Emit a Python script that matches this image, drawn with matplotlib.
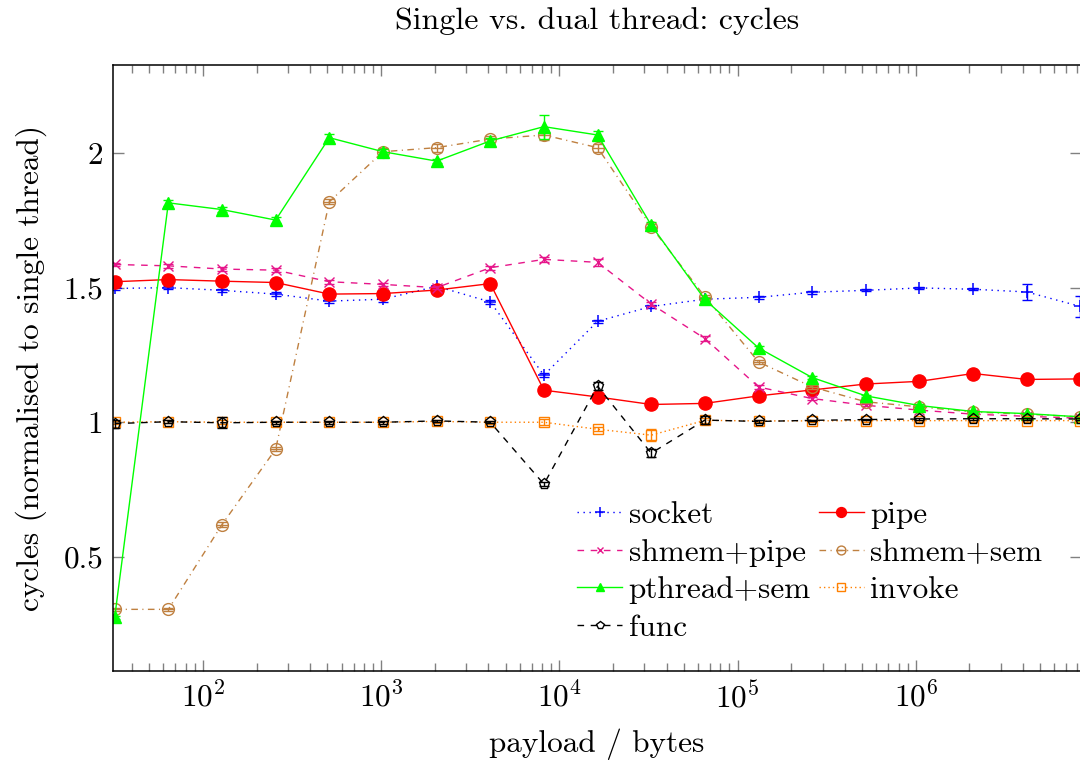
import matplotlib
matplotlib.use("Agg")
import matplotlib.pyplot as plt
from matplotlib.path import Path
from matplotlib.ticker import FixedLocator, FixedFormatter, LogLocator, NullFormatter

plt.rcParams['font.family'] = 'cmr10'
plt.rcParams['mathtext.fontset'] = 'cm'
plt.rcParams['axes.formatter.use_mathtext'] = True

payload = [32, 64, 128, 256, 512, 1024, 2048, 4096, 8192, 16384, 32768,
           65536, 131072, 262144, 524288, 1048576, 2097152, 4194304, 8388608]

socket = [1.497, 1.500, 1.490, 1.476, 1.450, 1.457, 1.505, 1.447, 1.175, 1.375,
          1.430, 1.457, 1.464, 1.483, 1.490, 1.499, 1.494, 1.484, 1.430]
socket_err = [0.006, 0.006, 0.006, 0.007, 0.008, 0.012, 0.006, 0.008, 0.008, 0.006,
              0.006, 0.005, 0.005, 0.005, 0.004, 0.004, 0.004, 0.030, 0.040]

pipe = [1.522, 1.530, 1.524, 1.519, 1.476, 1.478, 1.491, 1.515, 1.119, 1.094,
        1.066, 1.070, 1.098, 1.120, 1.142, 1.152, 1.181, 1.159, 1.161]
pipe_err = [0.004, 0.004, 0.004, 0.004, 0.005, 0.005, 0.004, 0.004, 0.003, 0.003,
            0.003, 0.003, 0.003, 0.003, 0.003, 0.003, 0.003, 0.003, 0.003]

shmem_pipe = [1.586, 1.581, 1.569, 1.565, 1.522, 1.512, 1.500, 1.574, 1.605, 1.594,
              1.439, 1.311, 1.131, 1.088, 1.063, 1.045, 1.030, 1.022, 1.015]
shmem_pipe_err = [0.006, 0.007, 0.007, 0.007, 0.007, 0.007, 0.006, 0.008, 0.009, 0.012,
                  0.008, 0.008, 0.006, 0.004, 0.003, 0.003, 0.003, 0.003, 0.003]

shmem_sem = [0.305, 0.305, 0.620, 0.900, 1.819, 2.005, 2.020, 2.052, 2.067, 2.020,
             1.726, 1.466, 1.224, 1.131, 1.076, 1.057, 1.038, 1.030, 1.020]
shmem_sem_err = [0.006, 0.006, 0.008, 0.008, 0.010, 0.012, 0.015, 0.012, 0.020, 0.015,
                 0.012, 0.008, 0.008, 0.006, 0.005, 0.004, 0.004, 0.004, 0.004]

pthread_sem = [0.276, 1.815, 1.790, 1.751, 2.057, 2.005, 1.970, 2.045, 2.098, 2.067,
               1.732, 1.456, 1.276, 1.166, 1.098, 1.062, 1.040, 1.032, 1.020]
pthread_sem_err = [0.005, 0.010, 0.010, 0.012, 0.012, 0.010, 0.008, 0.012, 0.045, 0.015,
                   0.010, 0.006, 0.006, 0.005, 0.004, 0.004, 0.003, 0.003, 0.003]

invoke = [1.000, 1.002, 1.000, 1.000, 1.000, 1.000, 1.003, 1.000, 1.000, 0.974,
          0.952, 1.007, 1.005, 1.005, 1.006, 1.006, 1.006, 1.006, 1.006]
invoke_err = [0.006, 0.005, 0.008, 0.005, 0.005, 0.005, 0.005, 0.005, 0.012, 0.008,
              0.022, 0.008, 0.005, 0.004, 0.004, 0.004, 0.004, 0.004, 0.004]

func = [0.995, 1.002, 0.998, 1.000, 1.000, 1.000, 1.005, 1.000, 0.770, 1.134,
        0.885, 1.008, 1.003, 1.007, 1.010, 1.012, 1.013, 1.013, 1.012]
func_err = [0.015, 0.006, 0.020, 0.006, 0.006, 0.006, 0.005, 0.004, 0.008, 0.015,
            0.015, 0.015, 0.004, 0.003, 0.003, 0.003, 0.003, 0.003, 0.003]

ytick_vals = [0.5, 1, 1.5, 2]
ytick_labels = ['0.5', '1', '1.5', '2']

# circle with a horizontal bar through it
ominus = Path.make_compound_path(
    Path.unit_circle(),
    Path([(-1, 0), (1, 0)], [Path.MOVETO, Path.LINETO]))

series = [
    ('socket', socket, socket_err, dict(color='#0000ff', marker='+', ms=9, mew=1.1,
                                        dashes=(1.0, 3.3))),
    ('pipe', pipe, pipe_err, dict(color='#ff0000', marker='o', ms=9.5)),
    ('shmem+pipe', shmem_pipe, shmem_pipe_err, dict(color='#e6168a', marker='x', ms=6.5,
                                                    dashes=(4.75, 4.75))),
    ('shmem+sem', shmem_sem, shmem_sem_err, dict(color='#bf8040', marker=ominus, ms=8.5,
                                                 mfc='none', dashes=(4.75, 3.2, 0.8, 3.2))),
    ('pthread+sem', pthread_sem, pthread_sem_err, dict(color='#00ff00', marker='^', ms=8.5)),
    ('invoke', invoke, invoke_err, dict(color='#ff8000', marker='s', ms=7.5,
                                        mfc='none', dashes=(1.0, 2.2))),
    ('func', func, func_err, dict(color='black', marker='p', ms=8,
                                  mfc='none', dashes=(4.75, 4.75))),
]

fig = plt.figure(figsize=(10.8, 7.64), dpi=100)
ax = fig.add_axes([113 / 1080, 1 - 671 / 764, 968 / 1080, 606 / 764])

handles = {}
for name, vals, err, st in series:
    c = st['color']
    ax.errorbar(payload, vals, yerr=err, fmt='none', ecolor=c, elinewidth=1.0,
                capsize=3.5, capthick=1.0)
    line, = ax.plot(payload, vals, lw=1.0, mec=c, label=name, **st)
    handles[name] = line

ax.set_xscale('log')
ax.set_xlim(31.3, 8.45e6)
ax.set_ylim(0.076, 2.327)

ax.yaxis.set_major_locator(FixedLocator(ytick_vals))
ax.yaxis.set_major_formatter(FixedFormatter(ytick_labels))
ax.xaxis.set_major_locator(LogLocator(base=10))
ax.xaxis.set_minor_locator(LogLocator(base=10, subs=range(2, 10)))
ax.xaxis.set_minor_formatter(NullFormatter())

ax.tick_params(which='both', direction='in', top=True, right=True,
               color='#808080', labelsize=22.5, pad=7)
ax.tick_params(which='major', length=8, width=1.0)
ax.tick_params(which='minor', length=5.5, width=1.0)
for sp in ax.spines.values():
    sp.set_linewidth(1.1)

ax.set_title('Single vs. dual thread: cycles', fontsize=23, pad=26)
ax.set_xlabel('payload / bytes', fontsize=22.5, labelpad=11)
ax.set_ylabel('cycles (normalised to single thread)', fontsize=22.5, labelpad=12)

order = ['socket', 'shmem+pipe', 'pthread+sem', 'func', 'pipe', 'shmem+sem', 'invoke']
ax.legend([handles[n] for n in order], order, ncol=2, frameon=False, fontsize=22.5,
          loc='upper left', bbox_to_anchor=(577 / 1080, 1 - 501 / 764),
          bbox_transform=fig.transFigure, borderpad=0, borderaxespad=0, markerscale=0.75,
          handlelength=1.45, handletextpad=0.2, columnspacing=0.25, labelspacing=0.31)

fig.savefig('out.png', dpi=100)
